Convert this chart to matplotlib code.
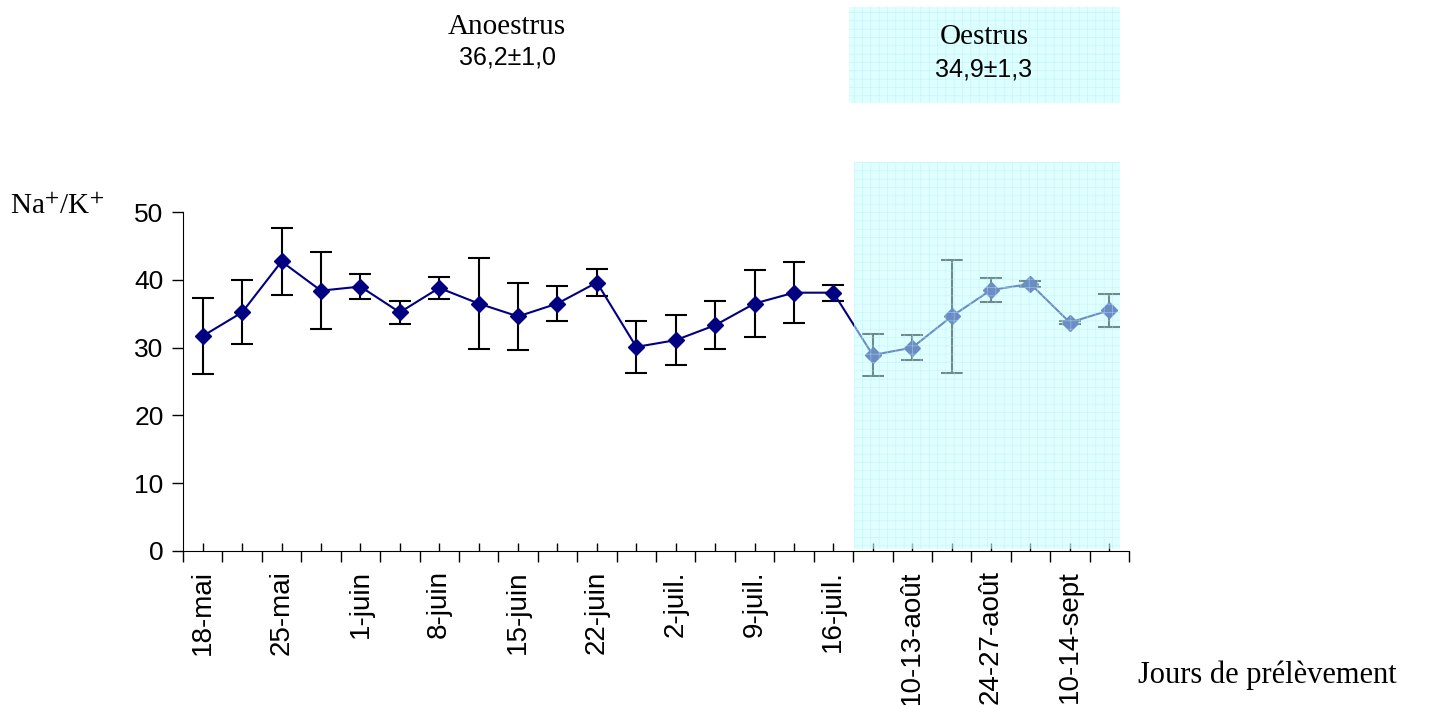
import matplotlib as mpl
import matplotlib.pyplot as plt
import numpy as np
from matplotlib.patches import Rectangle

# Valeurs
dates = ['18-mai', '', '25-mai', '', '1-juin', '', '8-juin', '', '15-juin', '',
         '22-juin', '', '2-juil.', '', '9-juil.', '', '16-juil.', '', '10-13-août', '',
         '24-27-août', '', '10-14-sept', '']
ratio = [31.7, 35.2, 42.7, 38.4, 39.0, 35.2, 38.8, 36.5, 34.6, 36.5, 39.6, 30.1,
         31.1, 33.3, 36.5, 38.1, 38.1, 28.9, 30.0, 34.6, 38.5, 39.4, 33.7, 35.5]
err = [5.6, 4.7, 4.9, 5.7, 1.9, 1.7, 1.6, 6.7, 5.0, 2.6, 2.0, 3.8,
       3.7, 3.5, 4.9, 4.5, 1.2, 3.1, 1.9, 8.3, 1.8, 0.4, 0.2, 2.4]
anoestrus_txt = '36,2±1,0'
oestrus_txt = '34,9±1,3'

mpl.rcParams['mathtext.fontset'] = 'stix'
mpl.rcParams['hatch.linewidth'] = 0.5
sans = 'Liberation Sans'
serif = 'Liberation Serif'

fig = plt.figure(figsize=(14.31, 7.05), dpi=100)
ax = fig.add_axes((183/1431, 154/705, (1129-183)/1431, (551-212)/705))

x = np.arange(len(ratio))
ax.errorbar(x, ratio, yerr=err, fmt='-D', color='#000080', ecolor='black',
            markersize=8, linewidth=1.5, elinewidth=1.5, capsize=8, capthick=1.5,
            clip_on=False, zorder=3)

ax.set_xlim(-0.5, len(ratio) - 0.5)
ax.set_ylim(0, 50)
ax.set_yticks(range(0, 51, 10))
ax.spines['top'].set_visible(False)
ax.spines['right'].set_visible(False)
ax.spines['left'].set_bounds(0, 50)

ax.set_xticks(np.arange(-0.5, len(ratio), 1.0))
ax.set_xticklabels([])
ax.set_xticks(x, minor=True)
ax.set_xticklabels(dates, minor=True, rotation=90, fontsize=20, family=sans)
ax.tick_params(axis='x', which='major', direction='out', length=8, width=1)
ax.tick_params(axis='x', which='minor', direction='in', length=6, width=1, pad=14)
ax.tick_params(axis='y', direction='out', length=8, width=1, pad=6)
for lab in ax.get_yticklabels():
    lab.set_fontsize(19)
    lab.set_family(sans)

# zone oestrus (calque transparent quadrillé)
ax.add_patch(Rectangle((16.52, 0.3), 23.27 - 16.52, 57.1, facecolor=(0.78, 1, 1, 0.55),
                       edgecolor=(0.7, 0.93, 0.96, 0.55), hatch='++', linewidth=0,
                       clip_on=False, zorder=5))
fig.patches.append(Rectangle((849/1431, 1 - 103/705), (1120-849)/1431, 96/705,
                             transform=fig.transFigure, facecolor=(0.87, 1, 1),
                             edgecolor=(0.78, 0.96, 0.97), hatch='++', linewidth=0))

fig.text(507/1431, 1 - 27/705, 'Anoestrus', family=serif, fontsize=21, ha='center', va='center')
fig.text(507/1431, 1 - 58/705, anoestrus_txt, family=sans, fontsize=18, ha='center', va='center')
fig.text(984/1431, 1 - 37/705, 'Oestrus', family=serif, fontsize=21, ha='center', va='center')
fig.text(984/1431, 1 - 70/705, oestrus_txt, family=sans, fontsize=18, ha='center', va='center')

fig.text(10/1431, 1 - 207/705, 'Na$^{+}$/K$^{+}$', family=serif, fontsize=21, ha='left', va='center')
fig.text(1138/1431, 1 - 675/705, 'Jours de prélèvement', family=serif, fontsize=22,
         ha='left', va='center')

fig.savefig('out.png', dpi=100)
